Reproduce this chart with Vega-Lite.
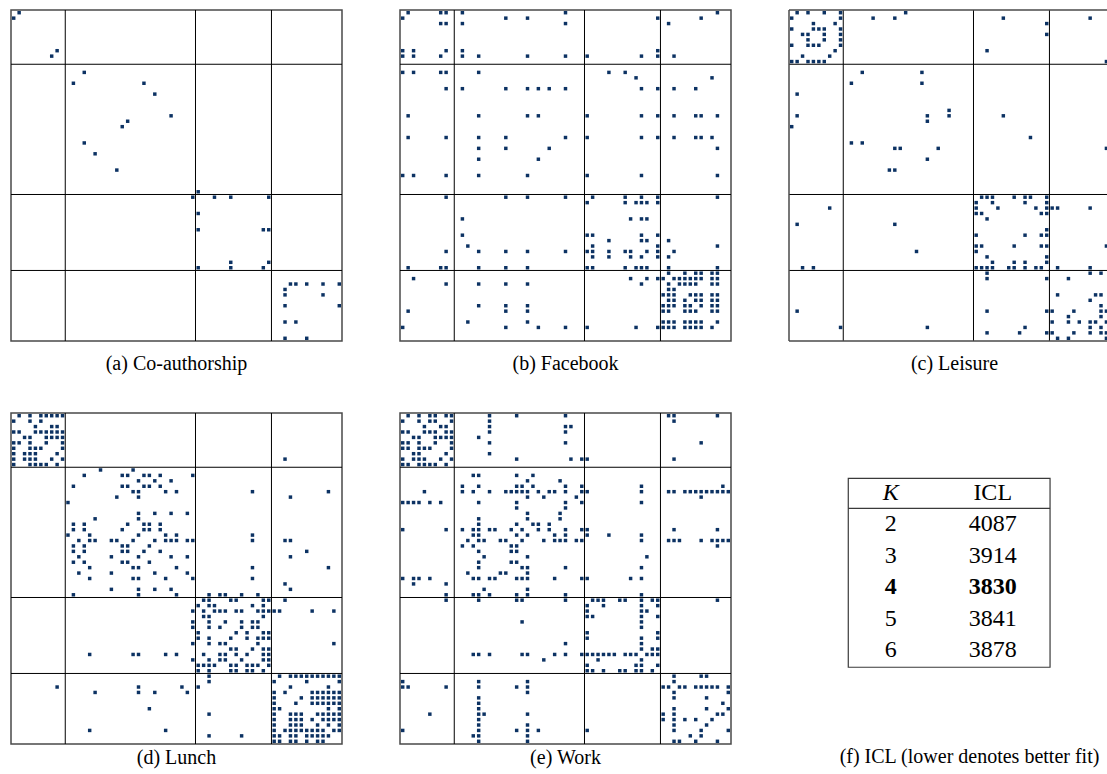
{
  "$schema": "https://vega.github.io/schema/vega-lite/v6.json",
  "background": "white",
  "padding": {"left": 9, "top": 8, "right": 0, "bottom": 0},
  "config": {
    "view": {"stroke": "#4a4a4a", "strokeWidth": 1.5},
    "title": {"font": "Liberation Serif", "fontSize": 20, "fontWeight": "normal", "color": "black", "orient": "bottom", "anchor": "middle"}
  },
  "datasets": {
    "blocks": [{"b": 9.5}, {"b": 33.5}, {"b": 47.5}],
    "icl": [{"k": 2, "icl": 4087, "best": false}, {"k": 3, "icl": 3914, "best": false}, {"k": 4, "icl": 3830, "best": true}, {"k": 5, "icl": 3841, "best": false}, {"k": 6, "icl": 3878, "best": false}],
    "coauthor": [
      {"r":0,"c":1},{"r":1,"c":0},{"r":7,"c":8},{"r":8,"c":7},{"r":11,"c":13},{"r":13,"c":11},{"r":13,"c":24},{"r":15,"c":26},{"r":19,"c":29},{"r":20,"c":21},{"r":21,"c":20},{"r":24,"c":13},{"r":26,"c":15},{"r":29,"c":19},
      {"r":33,"c":34},{"r":34,"c":33},{"r":34,"c":37},{"r":34,"c":40},{"r":34,"c":47},{"r":37,"c":34},{"r":40,"c":34},{"r":40,"c":46},{"r":40,"c":47},{"r":46,"c":40},{"r":46,"c":47},{"r":47,"c":34},{"r":47,"c":40},{"r":47,"c":46},
      {"r":50,"c":51},{"r":50,"c":52},{"r":50,"c":54},{"r":50,"c":57},{"r":50,"c":60},{"r":51,"c":50},{"r":52,"c":50},{"r":52,"c":57},{"r":54,"c":50},{"r":54,"c":60},{"r":57,"c":50},{"r":57,"c":52},{"r":60,"c":50},{"r":60,"c":54}
    ],
    "facebook": [
      {"r":0,"c":1},{"r":0,"c":7},{"r":0,"c":8},{"r":0,"c":11},{"r":0,"c":30},{"r":0,"c":58},
      {"r":1,"c":0},{"r":1,"c":19},{"r":1,"c":23},{"r":1,"c":47},{"r":1,"c":55},
      {"r":2,"c":7},{"r":2,"c":8},{"r":2,"c":11},{"r":2,"c":30},{"r":2,"c":49},
      {"r":7,"c":0},{"r":7,"c":2},{"r":7,"c":8},{"r":7,"c":11},{"r":7,"c":47},
      {"r":8,"c":0},{"r":8,"c":2},{"r":8,"c":7},{"r":8,"c":11},{"r":8,"c":14},{"r":8,"c":23},{"r":8,"c":30},{"r":8,"c":34},{"r":8,"c":44},{"r":8,"c":47},{"r":8,"c":50},
      {"r":11,"c":0},{"r":11,"c":2},{"r":11,"c":7},{"r":11,"c":8},{"r":11,"c":14},{"r":11,"c":38},{"r":11,"c":41},
      {"r":12,"c":43},{"r":12,"c":57},
      {"r":14,"c":8},{"r":14,"c":11},{"r":14,"c":19},{"r":14,"c":23},{"r":14,"c":25},{"r":14,"c":27},{"r":14,"c":30},{"r":14,"c":44},{"r":14,"c":47},{"r":14,"c":50},{"r":14,"c":54},
      {"r":19,"c":1},{"r":19,"c":14},{"r":19,"c":23},{"r":19,"c":25},{"r":19,"c":34},{"r":19,"c":44},{"r":19,"c":47},{"r":19,"c":50},{"r":19,"c":54},{"r":19,"c":55},{"r":19,"c":58},
      {"r":23,"c":1},{"r":23,"c":8},{"r":23,"c":14},{"r":23,"c":19},{"r":23,"c":30},{"r":23,"c":34},{"r":23,"c":44},{"r":23,"c":47},{"r":23,"c":50},{"r":23,"c":54},{"r":23,"c":55},{"r":23,"c":57},
      {"r":25,"c":14},{"r":25,"c":19},{"r":25,"c":27},{"r":25,"c":58},
      {"r":27,"c":14},{"r":27,"c":25},
      {"r":30,"c":0},{"r":30,"c":2},{"r":30,"c":8},{"r":30,"c":14},{"r":30,"c":23},{"r":30,"c":34},{"r":30,"c":44},{"r":30,"c":58},
      {"r":34,"c":8},{"r":34,"c":19},{"r":34,"c":23},{"r":34,"c":30},{"r":34,"c":35},{"r":34,"c":41},{"r":34,"c":44},{"r":34,"c":47},{"r":34,"c":58},
      {"r":35,"c":34},{"r":35,"c":41},{"r":35,"c":43},{"r":35,"c":44},{"r":35,"c":45},{"r":35,"c":47},
      {"r":38,"c":11},{"r":38,"c":42},{"r":38,"c":44},{"r":38,"c":45},
      {"r":41,"c":11},{"r":41,"c":34},{"r":41,"c":35},{"r":41,"c":44},{"r":41,"c":47},
      {"r":42,"c":38},{"r":42,"c":44},{"r":42,"c":45},{"r":42,"c":49},
      {"r":43,"c":12},{"r":43,"c":35},{"r":43,"c":47},{"r":43,"c":58},
      {"r":44,"c":8},{"r":44,"c":14},{"r":44,"c":19},{"r":44,"c":23},{"r":44,"c":30},{"r":44,"c":34},{"r":44,"c":35},{"r":44,"c":38},{"r":44,"c":41},{"r":44,"c":42},{"r":44,"c":45},{"r":44,"c":47},{"r":44,"c":50},
      {"r":45,"c":35},{"r":45,"c":38},{"r":45,"c":42},{"r":45,"c":44},{"r":45,"c":47},{"r":45,"c":49},
      {"r":47,"c":1},{"r":47,"c":7},{"r":47,"c":8},{"r":47,"c":14},{"r":47,"c":19},{"r":47,"c":23},{"r":47,"c":34},{"r":47,"c":35},{"r":47,"c":41},{"r":47,"c":43},{"r":47,"c":44},{"r":47,"c":45},{"r":47,"c":49},{"r":47,"c":58},
      {"r":48,"c":49},{"r":48,"c":52},{"r":48,"c":54},{"r":48,"c":55},{"r":48,"c":57},{"r":48,"c":58},
      {"r":49,"c":2},{"r":49,"c":42},{"r":49,"c":45},{"r":49,"c":47},{"r":49,"c":48},{"r":49,"c":50},{"r":49,"c":51},{"r":49,"c":52},{"r":49,"c":53},{"r":49,"c":54},{"r":49,"c":55},{"r":49,"c":57},{"r":49,"c":58},
      {"r":50,"c":8},{"r":50,"c":14},{"r":50,"c":19},{"r":50,"c":23},{"r":50,"c":44},{"r":50,"c":49},{"r":50,"c":51},{"r":50,"c":52},{"r":50,"c":53},{"r":50,"c":54},{"r":50,"c":57},{"r":50,"c":58},
      {"r":51,"c":49},{"r":51,"c":50},
      {"r":52,"c":48},{"r":52,"c":49},{"r":52,"c":50},{"r":52,"c":53},{"r":52,"c":54},{"r":52,"c":55},{"r":52,"c":57},{"r":52,"c":58},
      {"r":53,"c":49},{"r":53,"c":50},{"r":53,"c":52},{"r":53,"c":54},{"r":53,"c":55},{"r":53,"c":57},{"r":53,"c":58},
      {"r":54,"c":14},{"r":54,"c":19},{"r":54,"c":23},{"r":54,"c":48},{"r":54,"c":49},{"r":54,"c":50},{"r":54,"c":52},{"r":54,"c":53},{"r":54,"c":55},{"r":54,"c":57},{"r":54,"c":58},
      {"r":55,"c":1},{"r":55,"c":19},{"r":55,"c":23},{"r":55,"c":48},{"r":55,"c":49},{"r":55,"c":52},{"r":55,"c":53},{"r":55,"c":54},{"r":55,"c":57},{"r":55,"c":58},
      {"r":57,"c":12},{"r":57,"c":23},{"r":57,"c":48},{"r":57,"c":49},{"r":57,"c":50},{"r":57,"c":52},{"r":57,"c":53},{"r":57,"c":54},{"r":57,"c":55},{"r":57,"c":58},
      {"r":58,"c":0},{"r":58,"c":19},{"r":58,"c":25},{"r":58,"c":30},{"r":58,"c":34},{"r":58,"c":43},{"r":58,"c":47},{"r":58,"c":48},{"r":58,"c":49},{"r":58,"c":50},{"r":58,"c":52},{"r":58,"c":53},{"r":58,"c":54},{"r":58,"c":55},{"r":58,"c":57}
    ],
    "leisure": [
      {"r":0,"c":1},{"r":0,"c":3},{"r":0,"c":6},{"r":0,"c":9},{"r":0,"c":21},
      {"r":1,"c":0},{"r":1,"c":9},{"r":1,"c":15},{"r":1,"c":19},{"r":1,"c":39},{"r":1,"c":55},
      {"r":2,"c":4},{"r":2,"c":8},{"r":2,"c":47},
      {"r":3,"c":0},{"r":3,"c":4},{"r":3,"c":5},{"r":3,"c":6},{"r":3,"c":9},
      {"r":4,"c":2},{"r":4,"c":3},{"r":4,"c":6},{"r":4,"c":9},{"r":4,"c":47},
      {"r":5,"c":3},{"r":5,"c":6},{"r":5,"c":9},
      {"r":6,"c":0},{"r":6,"c":3},{"r":6,"c":4},{"r":6,"c":5},{"r":6,"c":9},
      {"r":7,"c":8},{"r":7,"c":36},
      {"r":8,"c":2},{"r":8,"c":7},
      {"r":9,"c":0},{"r":9,"c":1},{"r":9,"c":3},{"r":9,"c":4},{"r":9,"c":5},{"r":9,"c":6},{"r":9,"c":58},
      {"r":11,"c":13},{"r":11,"c":24},
      {"r":13,"c":11},{"r":13,"c":24},
      {"r":15,"c":1},
      {"r":18,"c":29},
      {"r":19,"c":1},{"r":19,"c":25},{"r":19,"c":29},{"r":19,"c":39},
      {"r":20,"c":25},
      {"r":21,"c":0},
      {"r":23,"c":44},
      {"r":24,"c":11},{"r":24,"c":13},
      {"r":25,"c":19},{"r":25,"c":20},{"r":25,"c":27},{"r":25,"c":58},
      {"r":27,"c":25},
      {"r":29,"c":18},{"r":29,"c":19},
      {"r":34,"c":35},{"r":34,"c":36},{"r":34,"c":37},{"r":34,"c":41},{"r":34,"c":43},{"r":34,"c":44},{"r":34,"c":47},
      {"r":35,"c":34},{"r":35,"c":37},{"r":35,"c":43},{"r":35,"c":47},
      {"r":36,"c":7},{"r":36,"c":34},{"r":36,"c":38},{"r":36,"c":45},{"r":36,"c":47},{"r":36,"c":48},{"r":36,"c":49},{"r":36,"c":55},
      {"r":37,"c":34},{"r":37,"c":35},{"r":37,"c":46},{"r":37,"c":47},
      {"r":38,"c":36},
      {"r":39,"c":1},{"r":39,"c":19},
      {"r":40,"c":47},
      {"r":41,"c":34},{"r":41,"c":43},{"r":41,"c":46},{"r":41,"c":47},
      {"r":43,"c":34},{"r":43,"c":35},{"r":43,"c":41},{"r":43,"c":46},{"r":43,"c":47},{"r":43,"c":58},
      {"r":44,"c":23},{"r":44,"c":34},
      {"r":45,"c":36},{"r":45,"c":47},
      {"r":46,"c":37},{"r":46,"c":41},{"r":46,"c":43},{"r":46,"c":47},
      {"r":47,"c":2},{"r":47,"c":4},{"r":47,"c":34},{"r":47,"c":35},{"r":47,"c":36},{"r":47,"c":37},{"r":47,"c":40},{"r":47,"c":41},{"r":47,"c":43},{"r":47,"c":45},{"r":47,"c":46},{"r":47,"c":49},{"r":47,"c":55},
      {"r":48,"c":36},{"r":48,"c":55},{"r":48,"c":57},
      {"r":49,"c":36},{"r":49,"c":47},{"r":49,"c":51},
      {"r":52,"c":49},{"r":52,"c":56},{"r":52,"c":57},
      {"r":53,"c":55},
      {"r":54,"c":57},
      {"r":55,"c":1},{"r":55,"c":36},{"r":55,"c":47},{"r":55,"c":48},{"r":55,"c":52},{"r":55,"c":57},{"r":55,"c":58},
      {"r":56,"c":51},{"r":56,"c":57},
      {"r":57,"c":48},{"r":57,"c":51},{"r":57,"c":53},{"r":57,"c":55},{"r":57,"c":56},{"r":57,"c":58},
      {"r":58,"c":9},{"r":58,"c":25},{"r":58,"c":43},{"r":58,"c":55},{"r":58,"c":57},
      {"r":59,"c":36},{"r":59,"c":42},{"r":59,"c":47},{"r":59,"c":48},{"r":59,"c":52},{"r":59,"c":55},{"r":59,"c":57},{"r":59,"c":58},
      {"r":60,"c":49},{"r":60,"c":51},{"r":60,"c":58}
    ],
    "lunch": [
      {"r":0,"c":1},{"r":0,"c":3},{"r":0,"c":5},{"r":0,"c":6},{"r":0,"c":7},{"r":0,"c":8},{"r":0,"c":9},
      {"r":1,"c":0},{"r":1,"c":3},{"r":1,"c":5},
      {"r":2,"c":4},{"r":2,"c":7},{"r":2,"c":8},
      {"r":3,"c":0},{"r":3,"c":1},{"r":3,"c":4},{"r":3,"c":5},{"r":3,"c":6},{"r":3,"c":7},{"r":3,"c":8},{"r":3,"c":9},
      {"r":4,"c":2},{"r":4,"c":3},{"r":4,"c":6},{"r":4,"c":7},{"r":4,"c":8},{"r":4,"c":9},
      {"r":5,"c":0},{"r":5,"c":1},{"r":5,"c":3},{"r":5,"c":6},{"r":5,"c":9},
      {"r":6,"c":0},{"r":6,"c":3},{"r":6,"c":4},{"r":6,"c":5},{"r":6,"c":9},
      {"r":7,"c":0},{"r":7,"c":2},{"r":7,"c":3},{"r":7,"c":4},{"r":7,"c":8},
      {"r":8,"c":0},{"r":8,"c":2},{"r":8,"c":3},{"r":8,"c":4},{"r":8,"c":7},{"r":8,"c":9},{"r":8,"c":50},
      {"r":9,"c":0},{"r":9,"c":3},{"r":9,"c":4},{"r":9,"c":5},{"r":9,"c":6},{"r":9,"c":8},
      {"r":10,"c":16},{"r":10,"c":22},
      {"r":11,"c":13},{"r":11,"c":20},{"r":11,"c":21},{"r":11,"c":24},{"r":11,"c":25},{"r":11,"c":27},{"r":11,"c":33},
      {"r":12,"c":23},{"r":12,"c":26},{"r":12,"c":29},
      {"r":13,"c":11},{"r":13,"c":20},{"r":13,"c":21},{"r":13,"c":24},{"r":13,"c":25},{"r":13,"c":27},
      {"r":14,"c":22},{"r":14,"c":23},{"r":14,"c":28},{"r":14,"c":30},{"r":14,"c":44},{"r":14,"c":58},
      {"r":15,"c":19},{"r":15,"c":23},{"r":15,"c":51},
      {"r":16,"c":10},
      {"r":18,"c":23},{"r":18,"c":26},{"r":18,"c":29},{"r":18,"c":32},
      {"r":19,"c":15},{"r":19,"c":23},
      {"r":20,"c":11},{"r":20,"c":13},{"r":20,"c":21},{"r":20,"c":24},{"r":20,"c":25},{"r":20,"c":27},
      {"r":21,"c":11},{"r":21,"c":13},{"r":21,"c":20},{"r":21,"c":24},{"r":21,"c":25},{"r":21,"c":27},
      {"r":22,"c":10},{"r":22,"c":14},{"r":22,"c":23},{"r":22,"c":28},{"r":22,"c":30},{"r":22,"c":44},
      {"r":23,"c":12},{"r":23,"c":14},{"r":23,"c":15},{"r":23,"c":18},{"r":23,"c":19},{"r":23,"c":22},{"r":23,"c":26},{"r":23,"c":28},{"r":23,"c":29},{"r":23,"c":30},{"r":23,"c":32},{"r":23,"c":33},{"r":23,"c":44},{"r":23,"c":50},{"r":23,"c":51},
      {"r":24,"c":11},{"r":24,"c":13},{"r":24,"c":20},{"r":24,"c":21},{"r":24,"c":25},
      {"r":25,"c":11},{"r":25,"c":13},{"r":25,"c":20},{"r":25,"c":21},{"r":25,"c":24},{"r":25,"c":27},{"r":25,"c":54},
      {"r":26,"c":12},{"r":26,"c":18},{"r":26,"c":23},{"r":26,"c":29},{"r":26,"c":32},{"r":26,"c":51},
      {"r":27,"c":11},{"r":27,"c":13},{"r":27,"c":20},{"r":27,"c":21},{"r":27,"c":25},
      {"r":28,"c":14},{"r":28,"c":22},{"r":28,"c":23},{"r":28,"c":30},{"r":28,"c":44},{"r":28,"c":58},
      {"r":29,"c":12},{"r":29,"c":18},{"r":29,"c":26},{"r":29,"c":32},
      {"r":30,"c":14},{"r":30,"c":22},{"r":30,"c":23},{"r":30,"c":28},{"r":30,"c":33},{"r":30,"c":44},
      {"r":31,"c":50},
      {"r":32,"c":18},{"r":32,"c":23},{"r":32,"c":26},{"r":32,"c":29},{"r":32,"c":51},
      {"r":33,"c":11},{"r":33,"c":23},{"r":33,"c":30},{"r":33,"c":36},{"r":33,"c":38},{"r":33,"c":39},{"r":33,"c":42},{"r":33,"c":45},
      {"r":34,"c":35},{"r":34,"c":36},{"r":34,"c":40},{"r":34,"c":41},{"r":34,"c":46},{"r":34,"c":47},{"r":34,"c":50},
      {"r":35,"c":34},{"r":35,"c":36},{"r":35,"c":37},{"r":35,"c":44},{"r":35,"c":46},
      {"r":36,"c":33},{"r":36,"c":35},{"r":36,"c":37},{"r":36,"c":38},{"r":36,"c":39},{"r":36,"c":41},{"r":36,"c":42},{"r":36,"c":45},{"r":36,"c":46},{"r":36,"c":47},{"r":36,"c":48},{"r":36,"c":49},{"r":36,"c":55},{"r":36,"c":59},
      {"r":37,"c":35},{"r":37,"c":36},{"r":37,"c":46},
      {"r":38,"c":33},{"r":38,"c":36},{"r":38,"c":39},{"r":38,"c":42},{"r":38,"c":44},{"r":38,"c":45},
      {"r":39,"c":33},{"r":39,"c":36},{"r":39,"c":38},{"r":39,"c":42},{"r":39,"c":44},{"r":39,"c":45},
      {"r":40,"c":34},{"r":40,"c":41},{"r":40,"c":43},{"r":40,"c":46},{"r":40,"c":47},
      {"r":41,"c":34},{"r":41,"c":36},{"r":41,"c":40},{"r":41,"c":43},{"r":41,"c":45},{"r":41,"c":46},{"r":41,"c":47},
      {"r":42,"c":33},{"r":42,"c":36},{"r":42,"c":38},{"r":42,"c":39},{"r":42,"c":45},{"r":42,"c":59},
      {"r":43,"c":40},{"r":43,"c":41},{"r":43,"c":44},{"r":43,"c":46},{"r":43,"c":47},
      {"r":44,"c":14},{"r":44,"c":22},{"r":44,"c":23},{"r":44,"c":28},{"r":44,"c":30},{"r":44,"c":35},{"r":44,"c":38},{"r":44,"c":39},{"r":44,"c":41},{"r":44,"c":43},{"r":44,"c":46},{"r":44,"c":47},
      {"r":45,"c":33},{"r":45,"c":36},{"r":45,"c":38},{"r":45,"c":39},{"r":45,"c":42},{"r":45,"c":46},{"r":45,"c":47},
      {"r":46,"c":34},{"r":46,"c":35},{"r":46,"c":36},{"r":46,"c":37},{"r":46,"c":40},{"r":46,"c":41},{"r":46,"c":43},{"r":46,"c":44},{"r":46,"c":45},{"r":46,"c":47},
      {"r":47,"c":34},{"r":47,"c":36},{"r":47,"c":40},{"r":47,"c":41},{"r":47,"c":43},{"r":47,"c":44},{"r":47,"c":46},
      {"r":48,"c":36},{"r":48,"c":49},{"r":48,"c":51},{"r":48,"c":52},{"r":48,"c":53},{"r":48,"c":54},{"r":48,"c":55},{"r":48,"c":56},{"r":48,"c":57},{"r":48,"c":58},{"r":48,"c":59},{"r":48,"c":60},
      {"r":49,"c":36},{"r":49,"c":48},{"r":49,"c":54},{"r":49,"c":60},
      {"r":50,"c":8},{"r":50,"c":23},{"r":50,"c":31},{"r":50,"c":34},{"r":50,"c":51},{"r":50,"c":58},
      {"r":51,"c":15},{"r":51,"c":23},{"r":51,"c":26},{"r":51,"c":32},{"r":51,"c":48},{"r":51,"c":50},{"r":51,"c":55},{"r":51,"c":56},{"r":51,"c":57},{"r":51,"c":58},{"r":51,"c":59},{"r":51,"c":60},
      {"r":52,"c":48},{"r":52,"c":53},{"r":52,"c":55},{"r":52,"c":56},{"r":52,"c":57},{"r":52,"c":58},{"r":52,"c":59},{"r":52,"c":60},
      {"r":53,"c":48},{"r":53,"c":52},{"r":53,"c":55},{"r":53,"c":56},{"r":53,"c":57},{"r":53,"c":58},{"r":53,"c":59},{"r":53,"c":60},
      {"r":54,"c":25},{"r":54,"c":48},{"r":54,"c":49},{"r":54,"c":58},{"r":54,"c":60},
      {"r":55,"c":36},{"r":55,"c":48},{"r":55,"c":51},{"r":55,"c":52},{"r":55,"c":53},{"r":55,"c":56},{"r":55,"c":57},{"r":55,"c":58},{"r":55,"c":59},{"r":55,"c":60},
      {"r":56,"c":48},{"r":56,"c":51},{"r":56,"c":52},{"r":56,"c":53},{"r":56,"c":55},{"r":56,"c":57},{"r":56,"c":58},{"r":56,"c":59},{"r":56,"c":60},
      {"r":57,"c":48},{"r":57,"c":51},{"r":57,"c":52},{"r":57,"c":53},{"r":57,"c":56},{"r":57,"c":58},{"r":57,"c":60},
      {"r":58,"c":14},{"r":58,"c":28},{"r":58,"c":48},{"r":58,"c":50},{"r":58,"c":51},{"r":58,"c":52},{"r":58,"c":53},{"r":58,"c":54},{"r":58,"c":55},{"r":58,"c":56},{"r":58,"c":57},{"r":58,"c":59},{"r":58,"c":60},
      {"r":59,"c":36},{"r":59,"c":42},{"r":59,"c":48},{"r":59,"c":49},{"r":59,"c":51},{"r":59,"c":52},{"r":59,"c":54},{"r":59,"c":55},{"r":59,"c":56},{"r":59,"c":57},{"r":59,"c":58},
      {"r":60,"c":48},{"r":60,"c":49},{"r":60,"c":51},{"r":60,"c":52},{"r":60,"c":54},{"r":60,"c":56},{"r":60,"c":57}
    ],
    "work": [
      {"r":0,"c":1},{"r":0,"c":3},{"r":0,"c":5},{"r":0,"c":6},{"r":0,"c":8},{"r":0,"c":9},{"r":0,"c":16},{"r":0,"c":21},{"r":0,"c":30},{"r":0,"c":49},{"r":0,"c":50},{"r":0,"c":58},
      {"r":1,"c":0},{"r":1,"c":3},{"r":1,"c":5},{"r":1,"c":6},{"r":1,"c":9},{"r":1,"c":16},{"r":1,"c":50},
      {"r":2,"c":4},{"r":2,"c":7},{"r":2,"c":8},{"r":2,"c":16},{"r":2,"c":30},{"r":2,"c":31},
      {"r":3,"c":0},{"r":3,"c":1},{"r":3,"c":4},{"r":3,"c":5},{"r":3,"c":6},{"r":3,"c":8},{"r":3,"c":9},{"r":3,"c":16},{"r":3,"c":30},
      {"r":4,"c":2},{"r":4,"c":3},{"r":4,"c":6},{"r":4,"c":7},{"r":4,"c":8},{"r":4,"c":9},{"r":4,"c":14},
      {"r":5,"c":0},{"r":5,"c":1},{"r":5,"c":3},{"r":5,"c":6},{"r":5,"c":9},{"r":5,"c":16},{"r":5,"c":30},{"r":5,"c":55},
      {"r":6,"c":0},{"r":6,"c":1},{"r":6,"c":3},{"r":6,"c":4},{"r":6,"c":5},{"r":6,"c":9},
      {"r":7,"c":2},{"r":7,"c":3},{"r":7,"c":8},{"r":7,"c":16},
      {"r":8,"c":0},{"r":8,"c":2},{"r":8,"c":3},{"r":8,"c":4},{"r":8,"c":7},{"r":8,"c":9},{"r":8,"c":21},{"r":8,"c":31},{"r":8,"c":33},{"r":8,"c":34},{"r":8,"c":50},
      {"r":9,"c":0},{"r":9,"c":1},{"r":9,"c":3},{"r":9,"c":4},{"r":9,"c":5},{"r":9,"c":6},{"r":9,"c":8},
      {"r":11,"c":13},{"r":11,"c":14},{"r":11,"c":21},{"r":11,"c":24},
      {"r":12,"c":23},{"r":12,"c":29},
      {"r":13,"c":11},{"r":13,"c":14},{"r":13,"c":21},{"r":13,"c":22},{"r":13,"c":24},{"r":13,"c":30},{"r":13,"c":33},{"r":13,"c":44},{"r":13,"c":59},
      {"r":14,"c":4},{"r":14,"c":11},{"r":14,"c":13},{"r":14,"c":16},{"r":14,"c":19},{"r":14,"c":20},{"r":14,"c":21},{"r":14,"c":22},{"r":14,"c":23},{"r":14,"c":25},{"r":14,"c":27},{"r":14,"c":28},{"r":14,"c":30},{"r":14,"c":33},{"r":14,"c":34},{"r":14,"c":44},{"r":14,"c":49},{"r":14,"c":50},{"r":14,"c":52},{"r":14,"c":53},{"r":14,"c":54},{"r":14,"c":55},{"r":14,"c":56},{"r":14,"c":57},{"r":14,"c":58},{"r":14,"c":59},{"r":14,"c":60},
      {"r":15,"c":23},{"r":15,"c":26},{"r":15,"c":32},{"r":15,"c":55},
      {"r":16,"c":0},{"r":16,"c":1},{"r":16,"c":2},{"r":16,"c":3},{"r":16,"c":5},{"r":16,"c":7},{"r":16,"c":14},{"r":16,"c":21},{"r":16,"c":30},{"r":16,"c":33},{"r":16,"c":44},
      {"r":17,"c":21},{"r":17,"c":30},
      {"r":18,"c":23},{"r":18,"c":29},
      {"r":19,"c":14},{"r":19,"c":23},{"r":19,"c":29},
      {"r":20,"c":14},{"r":20,"c":21},{"r":20,"c":24},{"r":20,"c":25},{"r":20,"c":27},
      {"r":21,"c":0},{"r":21,"c":8},{"r":21,"c":11},{"r":21,"c":13},{"r":21,"c":14},{"r":21,"c":16},{"r":21,"c":17},{"r":21,"c":20},{"r":21,"c":22},{"r":21,"c":25},{"r":21,"c":27},{"r":21,"c":30},{"r":21,"c":33},{"r":21,"c":34},{"r":21,"c":50},{"r":21,"c":58},
      {"r":22,"c":13},{"r":22,"c":14},{"r":22,"c":21},{"r":22,"c":23},{"r":22,"c":28},{"r":22,"c":30},{"r":22,"c":34},{"r":22,"c":38},{"r":22,"c":44},
      {"r":23,"c":12},{"r":23,"c":14},{"r":23,"c":15},{"r":23,"c":18},{"r":23,"c":19},{"r":23,"c":22},{"r":23,"c":26},{"r":23,"c":28},{"r":23,"c":29},{"r":23,"c":30},{"r":23,"c":32},{"r":23,"c":33},{"r":23,"c":44},{"r":23,"c":49},{"r":23,"c":50},{"r":23,"c":51},{"r":23,"c":55},{"r":23,"c":57},{"r":23,"c":58},{"r":23,"c":59},{"r":23,"c":60},
      {"r":24,"c":11},{"r":24,"c":13},{"r":24,"c":20},{"r":24,"c":21},{"r":24,"c":58},
      {"r":25,"c":14},{"r":25,"c":20},{"r":25,"c":21},
      {"r":26,"c":15},{"r":26,"c":23},{"r":26,"c":45},
      {"r":27,"c":14},{"r":27,"c":20},{"r":27,"c":21},
      {"r":28,"c":14},{"r":28,"c":22},{"r":28,"c":23},{"r":28,"c":30},{"r":28,"c":44},
      {"r":29,"c":12},{"r":29,"c":18},{"r":29,"c":19},{"r":29,"c":23},
      {"r":30,"c":0},{"r":30,"c":2},{"r":30,"c":3},{"r":30,"c":5},{"r":30,"c":13},{"r":30,"c":14},{"r":30,"c":16},{"r":30,"c":17},{"r":30,"c":21},{"r":30,"c":22},{"r":30,"c":23},{"r":30,"c":28},{"r":30,"c":33},{"r":30,"c":34},{"r":30,"c":42},{"r":30,"c":44},
      {"r":31,"c":2},{"r":31,"c":8},
      {"r":32,"c":15},{"r":32,"c":23},
      {"r":33,"c":8},{"r":33,"c":13},{"r":33,"c":14},{"r":33,"c":16},{"r":33,"c":21},{"r":33,"c":23},{"r":33,"c":30},{"r":33,"c":44},
      {"r":34,"c":8},{"r":34,"c":14},{"r":34,"c":21},{"r":34,"c":22},{"r":34,"c":30},{"r":34,"c":35},{"r":34,"c":36},{"r":34,"c":37},{"r":34,"c":40},{"r":34,"c":41},{"r":34,"c":44},{"r":34,"c":46},{"r":34,"c":47},{"r":34,"c":58},
      {"r":35,"c":34},{"r":35,"c":37},{"r":35,"c":44},{"r":35,"c":47},
      {"r":36,"c":34},{"r":36,"c":44},{"r":36,"c":45},
      {"r":37,"c":34},{"r":37,"c":35},{"r":37,"c":44},{"r":37,"c":47},
      {"r":38,"c":22},{"r":38,"c":44},
      {"r":39,"c":44},
      {"r":40,"c":34},{"r":40,"c":47},
      {"r":41,"c":34},{"r":41,"c":44},{"r":41,"c":47},
      {"r":42,"c":30},{"r":42,"c":44},
      {"r":43,"c":44},{"r":43,"c":46},{"r":43,"c":47},
      {"r":44,"c":13},{"r":44,"c":14},{"r":44,"c":16},{"r":44,"c":22},{"r":44,"c":23},{"r":44,"c":28},{"r":44,"c":30},{"r":44,"c":33},{"r":44,"c":34},{"r":44,"c":35},{"r":44,"c":36},{"r":44,"c":37},{"r":44,"c":38},{"r":44,"c":39},{"r":44,"c":41},{"r":44,"c":42},{"r":44,"c":43},{"r":44,"c":45},{"r":44,"c":46},{"r":44,"c":47},
      {"r":45,"c":26},{"r":45,"c":36},{"r":45,"c":44},
      {"r":46,"c":34},{"r":46,"c":43},{"r":46,"c":44},{"r":46,"c":47},
      {"r":47,"c":34},{"r":47,"c":35},{"r":47,"c":37},{"r":47,"c":40},{"r":47,"c":41},{"r":47,"c":43},{"r":47,"c":44},{"r":47,"c":46},
      {"r":48,"c":50},{"r":48,"c":55},{"r":48,"c":56},
      {"r":49,"c":0},{"r":49,"c":14},{"r":49,"c":23},{"r":49,"c":50},
      {"r":50,"c":0},{"r":50,"c":1},{"r":50,"c":8},{"r":50,"c":14},{"r":50,"c":21},{"r":50,"c":23},{"r":50,"c":48},{"r":50,"c":49},{"r":50,"c":51},{"r":50,"c":52},{"r":50,"c":54},{"r":50,"c":55},{"r":50,"c":56},{"r":50,"c":57},{"r":50,"c":58},{"r":50,"c":60},
      {"r":51,"c":23},{"r":51,"c":50},{"r":51,"c":60},
      {"r":52,"c":14},{"r":52,"c":50},{"r":52,"c":56},
      {"r":53,"c":14},{"r":53,"c":59},
      {"r":54,"c":14},{"r":54,"c":50},{"r":54,"c":56},{"r":54,"c":60},
      {"r":55,"c":5},{"r":55,"c":14},{"r":55,"c":15},{"r":55,"c":23},{"r":55,"c":48},{"r":55,"c":50},{"r":55,"c":58},{"r":55,"c":59},
      {"r":56,"c":14},{"r":56,"c":48},{"r":56,"c":50},{"r":56,"c":52},{"r":56,"c":54},{"r":56,"c":57},
      {"r":57,"c":14},{"r":57,"c":23},{"r":57,"c":50},{"r":57,"c":56},
      {"r":58,"c":0},{"r":58,"c":14},{"r":58,"c":21},{"r":58,"c":23},{"r":58,"c":25},{"r":58,"c":34},{"r":58,"c":50},{"r":58,"c":55},{"r":58,"c":60},
      {"r":59,"c":13},{"r":59,"c":14},{"r":59,"c":23},{"r":59,"c":53},{"r":59,"c":55},
      {"r":60,"c":14},{"r":60,"c":23},{"r":60,"c":50},{"r":60,"c":51},{"r":60,"c":54},{"r":60,"c":58}
    ]
  },
  "columns": 3,
  "spacing": {"row": 72, "column": 58},
  "bounds": "flush",
  "concat": [
    {
      "width": 331, "height": 331,
      "title": {"text": "(a) Co-authorship", "offset": 12},
      "layer": [
        {"data": {"name": "coauthor"}, "mark": {"type": "square", "size": 12, "color": "#0c3263", "opacity": 1},
         "encoding": {
           "x": {"field": "c", "type": "quantitative", "scale": {"domain": [-0.5, 60.5], "nice": false, "zero": false}, "axis": null},
           "y": {"field": "r", "type": "quantitative", "scale": {"domain": [-0.5, 60.5], "nice": false, "zero": false, "reverse": true}, "axis": null}}},
        {"data": {"name": "blocks"}, "mark": {"type": "rule", "color": "black", "strokeWidth": 1},
         "encoding": {"x": {"field": "b", "type": "quantitative"}}},
        {"data": {"name": "blocks"}, "mark": {"type": "rule", "color": "black", "strokeWidth": 1},
         "encoding": {"y": {"field": "b", "type": "quantitative"}}}
      ]
    },
    {
      "width": 331, "height": 331,
      "title": {"text": "(b) Facebook", "offset": 12},
      "layer": [
        {"data": {"name": "facebook"}, "mark": {"type": "square", "size": 12, "color": "#0c3263", "opacity": 1},
         "encoding": {
           "x": {"field": "c", "type": "quantitative", "scale": {"domain": [-0.5, 60.5], "nice": false, "zero": false}, "axis": null},
           "y": {"field": "r", "type": "quantitative", "scale": {"domain": [-0.5, 60.5], "nice": false, "zero": false, "reverse": true}, "axis": null}}},
        {"data": {"name": "blocks"}, "mark": {"type": "rule", "color": "black", "strokeWidth": 1},
         "encoding": {"x": {"field": "b", "type": "quantitative"}}},
        {"data": {"name": "blocks"}, "mark": {"type": "rule", "color": "black", "strokeWidth": 1},
         "encoding": {"y": {"field": "b", "type": "quantitative"}}}
      ]
    },
    {
      "width": 319, "height": 331,
      "view": {"stroke": null},
      "title": {"text": "(c) Leisure", "offset": 12, "dx": 6},
      "layer": [
        {"data": {"name": "leisure"}, "mark": {"type": "square", "size": 12, "color": "#0c3263", "opacity": 1},
         "encoding": {
           "x": {"field": "c", "type": "quantitative", "scale": {"domain": [-0.5, 58.29], "nice": false, "zero": false}, "axis": null},
           "y": {"field": "r", "type": "quantitative", "scale": {"domain": [-0.5, 60.5], "nice": false, "zero": false, "reverse": true}, "axis": null}}},
        {"data": {"name": "blocks"}, "mark": {"type": "rule", "color": "black", "strokeWidth": 1},
         "encoding": {"x": {"field": "b", "type": "quantitative"}}},
        {"data": {"name": "blocks"}, "mark": {"type": "rule", "color": "black", "strokeWidth": 1},
         "encoding": {"y": {"field": "b", "type": "quantitative"}}},
        {"data": {"values": [{}]}, "mark": {"type": "rule", "color": "#4a4a4a", "strokeWidth": 1.5},
         "encoding": {"x": {"datum": -0.5, "type": "quantitative"}}},
        {"data": {"values": [{}]}, "mark": {"type": "rule", "color": "#4a4a4a", "strokeWidth": 1.5},
         "encoding": {"y": {"datum": -0.5, "type": "quantitative"}}},
        {"data": {"values": [{}]}, "mark": {"type": "rule", "color": "#4a4a4a", "strokeWidth": 1.5},
         "encoding": {"y": {"datum": 60.5, "type": "quantitative"}}}
      ]
    },
    {
      "width": 331, "height": 331,
      "title": {"text": "(d) Lunch", "offset": 3},
      "layer": [
        {"data": {"name": "lunch"}, "mark": {"type": "square", "size": 12, "color": "#0c3263", "opacity": 1},
         "encoding": {
           "x": {"field": "c", "type": "quantitative", "scale": {"domain": [-0.5, 60.5], "nice": false, "zero": false}, "axis": null},
           "y": {"field": "r", "type": "quantitative", "scale": {"domain": [-0.5, 60.5], "nice": false, "zero": false, "reverse": true}, "axis": null}}},
        {"data": {"name": "blocks"}, "mark": {"type": "rule", "color": "black", "strokeWidth": 1},
         "encoding": {"x": {"field": "b", "type": "quantitative"}}},
        {"data": {"name": "blocks"}, "mark": {"type": "rule", "color": "black", "strokeWidth": 1},
         "encoding": {"y": {"field": "b", "type": "quantitative"}}}
      ]
    },
    {
      "width": 331, "height": 331,
      "title": {"text": "(e) Work", "offset": 3},
      "layer": [
        {"data": {"name": "work"}, "mark": {"type": "square", "size": 12, "color": "#0c3263", "opacity": 1},
         "encoding": {
           "x": {"field": "c", "type": "quantitative", "scale": {"domain": [-0.5, 60.5], "nice": false, "zero": false}, "axis": null},
           "y": {"field": "r", "type": "quantitative", "scale": {"domain": [-0.5, 60.5], "nice": false, "zero": false, "reverse": true}, "axis": null}}},
        {"data": {"name": "blocks"}, "mark": {"type": "rule", "color": "black", "strokeWidth": 1},
         "encoding": {"x": {"field": "b", "type": "quantitative"}}},
        {"data": {"name": "blocks"}, "mark": {"type": "rule", "color": "black", "strokeWidth": 1},
         "encoding": {"y": {"field": "b", "type": "quantitative"}}}
      ]
    },
    {
      "width": 319, "height": 331,
      "view": {"stroke": null},
      "title": {"text": "(f) ICL (lower denotes better fit)", "offset": 3, "dx": 21},
      "layer": [
        {"data": {"values": [{}]}, "mark": {"type": "rect", "fillOpacity": 0, "stroke": "#3a3a3a", "strokeWidth": 1.2},
         "encoding": {
           "x": {"datum": 0.582, "type": "quantitative", "scale": {"domain": [0, 3.132], "nice": false, "zero": false}, "axis": null},
           "x2": {"datum": 2.563},
           "y": {"datum": 0.532, "type": "quantitative", "scale": {"domain": [-1.548, 8.994], "nice": false, "zero": false, "reverse": true}, "axis": null},
           "y2": {"datum": 6.55}}},
        {"data": {"values": [{}]}, "mark": {"type": "rule", "color": "#3a3a3a", "strokeWidth": 1.2},
         "encoding": {"x": {"datum": 0.582, "type": "quantitative"}, "x2": {"datum": 2.563}, "y": {"datum": 1.487, "type": "quantitative"}}},
        {"data": {"values": [{}]}, "mark": {"type": "text", "text": "K", "font": "Liberation Serif", "fontStyle": "italic", "fontSize": 24, "baseline": "middle", "color": "black"},
         "encoding": {"x": {"datum": 1, "type": "quantitative"}, "y": {"datum": 1, "type": "quantitative"}}},
        {"data": {"values": [{}]}, "mark": {"type": "text", "text": "ICL", "font": "Liberation Serif", "fontSize": 24, "baseline": "middle", "color": "black"},
         "encoding": {"x": {"datum": 2, "type": "quantitative"}, "y": {"datum": 1, "type": "quantitative"}}},
        {"data": {"name": "icl"}, "transform": [{"filter": "!datum.best"}],
         "mark": {"type": "text", "font": "Liberation Serif", "fontSize": 24, "fontWeight": "normal", "baseline": "middle", "color": "black"},
         "encoding": {
           "x": {"datum": 1, "type": "quantitative"},
           "y": {"field": "k", "type": "quantitative"},
           "text": {"field": "k", "type": "quantitative", "format": "d"}}},
        {"data": {"name": "icl"}, "transform": [{"filter": "!datum.best"}],
         "mark": {"type": "text", "font": "Liberation Serif", "fontSize": 24, "fontWeight": "normal", "baseline": "middle", "color": "black"},
         "encoding": {
           "x": {"datum": 2, "type": "quantitative"},
           "y": {"field": "k", "type": "quantitative"},
           "text": {"field": "icl", "type": "quantitative", "format": "d"}}},
        {"data": {"name": "icl"}, "transform": [{"filter": "datum.best"}],
         "mark": {"type": "text", "font": "Liberation Serif", "fontSize": 24, "fontWeight": "bold", "baseline": "middle", "color": "black"},
         "encoding": {
           "x": {"datum": 1, "type": "quantitative"},
           "y": {"field": "k", "type": "quantitative"},
           "text": {"field": "k", "type": "quantitative", "format": "d"}}},
        {"data": {"name": "icl"}, "transform": [{"filter": "datum.best"}],
         "mark": {"type": "text", "font": "Liberation Serif", "fontSize": 24, "fontWeight": "bold", "baseline": "middle", "color": "black"},
         "encoding": {
           "x": {"datum": 2, "type": "quantitative"},
           "y": {"field": "k", "type": "quantitative"},
           "text": {"field": "icl", "type": "quantitative", "format": "d"}}}
      ]
    }
  ]
}
